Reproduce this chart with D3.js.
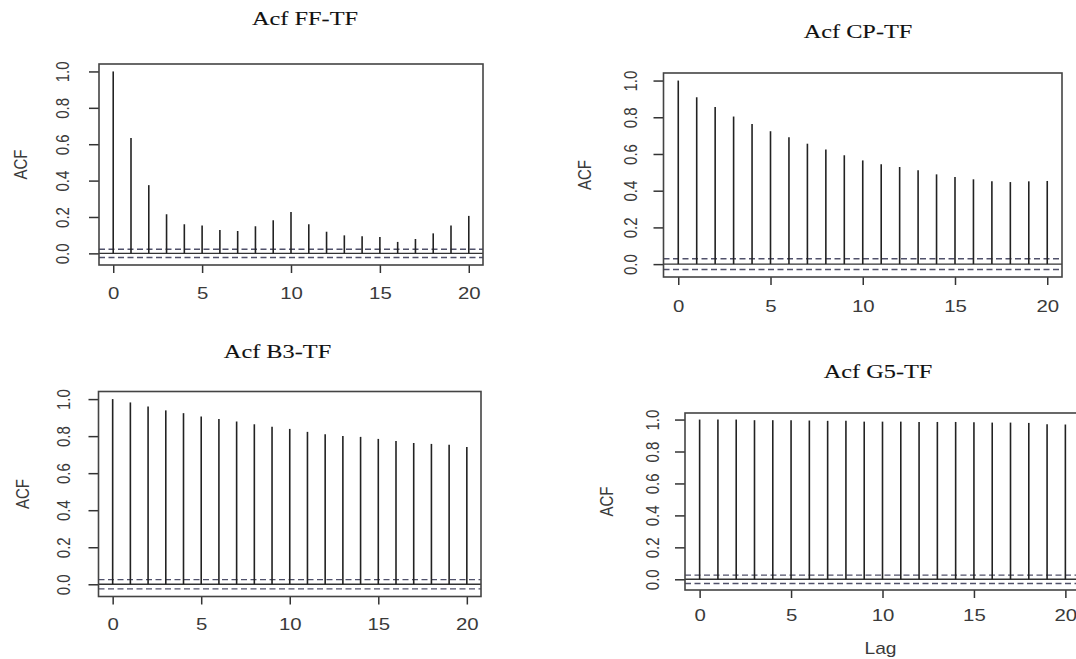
<!DOCTYPE html>
<html>
<head>
<meta charset="utf-8">
<script src="https://cdn.jsdelivr.net/npm/d3@7"></script>
<style>
  body { margin: 0; background: #fff; }
  svg { display: block; }
</style>
</head>
<body>
<div class="acfChart"></div>
<script>
// lags shown on every panel
var lags = [0, 1, 2, 3, 4, 5, 6, 7, 8, 9, 10, 11, 12, 13, 14, 15, 16, 17, 18, 19, 20];
var xTickValues = [0, 5, 10, 15, 20];
var yTickValues = [0.0, 0.2, 0.4, 0.6, 0.8, 1.0];

// acf values
var acfFF = [1.0, 0.634, 0.375, 0.215, 0.16, 0.153, 0.129, 0.123, 0.149, 0.182, 0.228,
             0.16, 0.119, 0.099, 0.094, 0.09, 0.063, 0.079, 0.11, 0.153, 0.206];
var acfCP = [1.0, 0.909, 0.856, 0.804, 0.764, 0.724, 0.691, 0.656, 0.624, 0.593, 0.565,
             0.544, 0.529, 0.511, 0.489, 0.475, 0.462, 0.451, 0.447, 0.451, 0.453];
var acfB3 = [1.0, 0.982, 0.960, 0.939, 0.924, 0.906, 0.893, 0.879, 0.864, 0.850, 0.839,
             0.823, 0.810, 0.801, 0.796, 0.785, 0.774, 0.763, 0.758, 0.754, 0.741];
var acfG5 = [1.0, 1.0, 1.0, 0.996, 0.996, 0.996, 0.994, 0.992, 0.992, 0.987, 0.987,
             0.987, 0.985, 0.985, 0.985, 0.983, 0.981, 0.981, 0.979, 0.971, 0.969];

// confidence bound (dashed lines)
var ciFF = 0.023, ciCP = 0.029, ciB3 = 0.025, ciG5 = 0.026;

var titles = ["Acf FF-TF", "Acf CP-TF", "Acf B3-TF", "Acf G5-TF"];

var width = 1076, height = 659;

var svg = d3.select(".acfChart")
    .append("svg")
        .attr("width", width)
        .attr("height", height);

svg.append("rect").attr("width", width).attr("height", height).attr("fill", "#fff");

// where each plot box sits on the page
var panels = [
    {title: titles[0], values: acfFF, ci: ciFF, left: 99, right: 483, top: 64, bottom: 265,
     titleX: 305, titleY: 25, ylabOff: 36, xlabOff: 28, acfOff: 78, lag: false},
    {title: titles[1], values: acfCP, ci: ciCP, left: 663.5, right: 1062, top: 73, bottom: 277,
     titleX: 858, titleY: 38, ylabOff: 33, xlabOff: 29, acfOff: 79, lag: false},
    {title: titles[2], values: acfB3, ci: ciB3, left: 98.5, right: 481, top: 391.5, bottom: 596.5,
     titleX: 277.5, titleY: 358, ylabOff: 35, xlabOff: 28, acfOff: 76, lag: false},
    {title: titles[3], values: acfG5, ci: ciG5, left: 685, right: 1080, top: 413, bottom: 590,
     titleX: 878, titleY: 378, ylabOff: 32.5, xlabOff: 25, acfOff: 78, lag: true}
];

var sans = "'Liberation Sans', Arial, sans-serif";

panels.forEach(function(p) { drawPanel(p); });

function drawPanel(p) {
    var g = svg.append("g");

    // same limits R uses: range of (acf, -ci, ci) padded by 4%
    var lo = Math.min(-p.ci, d3.min(p.values)), hi = Math.max(p.ci, d3.max(p.values));
    var pad = (hi - lo) * 0.04;

    var x = d3.scaleLinear()
        .domain([0 - 0.04 * 20, 20 + 0.04 * 20])
        .range([p.left, p.right]);
    var y = d3.scaleLinear()
        .domain([lo - pad, hi + pad])
        .range([p.bottom, p.top]);

    // confidence lines
    [p.ci, -p.ci].forEach(function(c) {
        g.append("line")
            .attr("x1", p.left).attr("x2", p.right)
            .attr("y1", y(c)).attr("y2", y(c))
            .attr("stroke", "#50516a")
            .attr("stroke-width", 1.4)
            .attr("stroke-dasharray", "6,3.5");
    });

    // zero line
    g.append("line")
        .attr("x1", p.left).attr("x2", p.right)
        .attr("y1", y(0)).attr("y2", y(0))
        .attr("stroke", "#333")
        .attr("stroke-width", 1.4);

    // spikes
    g.selectAll(".spike")
        .data(lags)
        .enter()
        .append("line")
            .attr("class", "spike")
            .attr("x1", function(d) { return x(d); })
            .attr("x2", function(d) { return x(d); })
            .attr("y1", y(0))
            .attr("y2", function(d, i) { return y(p.values[i]); })
            .attr("stroke", "#222")
            .attr("stroke-width", 1.6);

    // x axis
    var xa = g.append("g")
        .attr("transform", "translate(0," + p.bottom + ")")
        .call(d3.axisBottom(x).tickValues(xTickValues).tickSize(8).tickFormat(d3.format("d")));
    xa.select(".domain").remove();
    xa.selectAll("line").attr("stroke", "#333").attr("stroke-width", 1.5);
    xa.selectAll("text")
        .attr("y", 0).attr("dy", "0.35em")
        .attr("transform", "translate(0," + p.xlabOff + ") scale(1.2,1)")
        .attr("fill", "#3a3a3a")
        .style("font-family", sans)
        .style("font-size", "17px");

    // y axis
    var ya = g.append("g")
        .attr("transform", "translate(" + p.left + ",0)")
        .call(d3.axisLeft(y).tickValues(yTickValues).tickSize(10).tickFormat(d3.format(".1f")));
    ya.select(".domain").remove();
    ya.selectAll("line").attr("stroke", "#333").attr("stroke-width", 1.5);
    ya.selectAll("text")
        .attr("x", 0).attr("y", 0).attr("dy", "0.35em")
        .attr("text-anchor", "middle")
        .attr("transform", "translate(" + (-p.ylabOff) + ",0) scale(1.2,1) rotate(-90)")
        .attr("fill", "#3a3a3a")
        .style("font-family", sans)
        .style("font-size", "15px");

    // box
    g.append("rect")
        .attr("x", p.left).attr("y", p.top)
        .attr("width", p.right - p.left).attr("height", p.bottom - p.top)
        .attr("fill", "none")
        .attr("stroke", "#444")
        .attr("stroke-width", 1.6);

    // title
    g.append("text")
        .attr("transform", "translate(" + p.titleX + "," + p.titleY + ") scale(1.28,1)")
        .attr("text-anchor", "middle")
        .attr("fill", "#111")
        .attr("stroke", "#111")
        .attr("stroke-width", 0.12)
        .style("font-family", "'Liberation Serif', 'Times New Roman', serif")
        .style("font-size", "19px")
        .text(p.title);

    // ACF label
    g.append("text")
        .attr("transform", "translate(" + (p.left - p.acfOff) + "," + ((p.top + p.bottom) / 2) + ") scale(1.2,1) rotate(-90)")
        .attr("text-anchor", "middle")
        .attr("dy", "0.35em")
        .attr("fill", "#3a3a3a")
        .style("font-family", sans)
        .style("font-size", "15px")
        .text("ACF");

    if (p.lag) {
        g.append("text")
            .attr("transform", "translate(" + ((p.left + p.right) / 2 - 2) + "," + (p.bottom + 58) + ") scale(1.2,1)")
            .attr("text-anchor", "middle")
            .attr("dy", "0.35em")
            .attr("fill", "#3a3a3a")
            .style("font-family", sans)
            .style("font-size", "16px")
            .text("Lag");
    }
}
</script>
</body>
</html>
